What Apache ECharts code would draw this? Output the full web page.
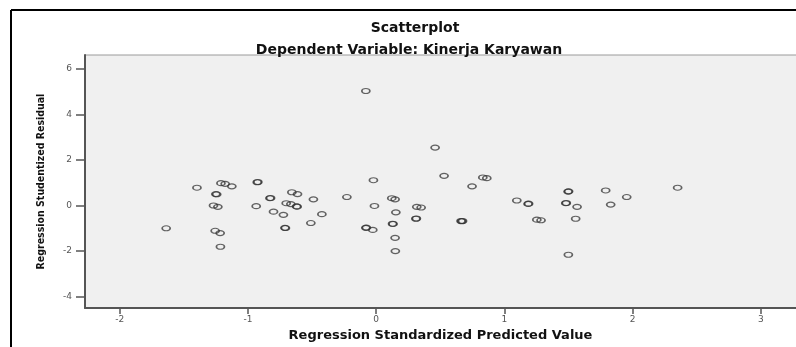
<!DOCTYPE html>
<html><head><meta charset="utf-8">
<script src="https://cdn.jsdelivr.net/npm/echarts@6/dist/echarts.min.js"></script>
<style>html,body{margin:0;padding:0;background:#fff}#c{width:796px;height:347px}</style>
</head><body><div id="c"></div>
<script>
const titleText = 'Scatterplot';
const subtitleText = 'Dependent Variable: Kinerja Karyawan';
const xName = 'Regression Standardized Predicted Value';
const yName = 'Regression Studentized Residual';
const xTicks = [-2, -1, 0, 1, 2, 3];
const yTicks = [-4, -2, 0, 2, 4, 6];
const predicted = [
 -1.637,-1.397,-1.210,-1.177,-1.125,-1.250,-1.243,-1.268,-1.234,-1.255,-1.216,-1.214,
 -0.927,-0.922,-0.935,-0.828,-0.823,-0.800,-0.723,-0.711,-0.707,-0.657,-0.613,-0.701,-0.665,-0.620,-0.616,
 -0.489,-0.423,-0.509,-0.228,-0.021,-0.013,-0.080,-0.076,-0.026,-0.080,
 0.122,0.148,0.154,0.128,0.132,0.148,0.150,0.317,0.351,0.310,0.314,0.662,0.668,0.674,
 0.460,0.530,0.832,0.863,0.748,1.097,1.185,1.189,1.253,1.286,1.497,1.501,1.479,1.483,1.567,1.556,1.499,
 1.790,1.829,1.954,2.351
];
const residual = [
 -1.00,0.78,0.98,0.95,0.84,0.50,0.49,0.00,-0.06,-1.11,-1.21,-1.81,
 1.02,1.03,-0.03,0.32,0.33,-0.27,-0.41,-0.98,-0.99,0.58,0.50,0.10,0.06,-0.04,-0.05,
 0.27,-0.38,-0.77,0.37,1.11,-0.02,-0.98,-0.97,-1.07,5.02,
 0.32,0.27,-0.30,-0.80,-0.81,-1.42,-2.00,-0.06,-0.09,-0.58,-0.57,-0.68,-0.69,-0.68,
 2.54,1.30,1.23,1.20,0.84,0.22,0.07,0.08,-0.62,-0.65,0.61,0.62,0.10,0.11,-0.06,-0.58,-2.16,
 0.66,0.04,0.37,0.78
];
const points = predicted.map((v, i) => [v, residual[i]]);

const chart = echarts.init(document.getElementById('c'));
chart.setOption({
  backgroundColor: '#fff',
  animation: false,
  title: [
    {text: titleText, left: 410, top: 16, textAlign: 'center',
     textStyle: {fontFamily: 'DejaVu Sans', fontWeight: 'bold', fontSize: 14, color: '#111'}},
    {text: subtitleText, left: 404, top: 38, textAlign: 'center',
     textStyle: {fontFamily: 'DejaVu Sans', fontWeight: 'bold', fontSize: 14, color: '#111'}}
  ],
  graphic: [
    {type: 'line', shape: {x1: 11, y1: 10, x2: 796, y2: 10}, style: {stroke: '#000', lineWidth: 2}, silent: true},
    {type: 'line', shape: {x1: 11, y1: 10, x2: 11, y2: 347}, style: {stroke: '#000', lineWidth: 2}, silent: true},
    {type: 'line', shape: {x1: 85, y1: 55, x2: 796, y2: 55}, style: {stroke: '#9a9a9a', lineWidth: 1}, silent: true}
  ],
  grid: {left: 85, top: 55, right: 0, bottom: 36, show: true, backgroundColor: '#f0f0f0', borderWidth: 0},
  xAxis: {
    type: 'value', min: -2.27, max: 3.274,
    name: xName, nameLocation: 'middle', nameGap: 19,
    nameTextStyle: {fontFamily: 'DejaVu Sans', fontWeight: 'bold', fontSize: 13, color: '#111'},
    axisLine: {show: true, onZero: false, lineStyle: {color: '#555', width: 2}},
    axisTick: {show: true, customValues: xTicks, length: 6, lineStyle: {color: '#555', width: 1.5}},
    axisLabel: {customValues: xTicks, color: '#555', fontSize: 9, margin: 7, fontFamily: 'DejaVu Sans'},
    splitLine: {show: false}
  },
  yAxis: {
    type: 'value', min: -4.5, max: 6.6,
    name: yName, nameLocation: 'middle', nameGap: 38, nameRotate: 90,
    nameTextStyle: {fontFamily: 'DejaVu Sans Condensed, Liberation Sans', fontWeight: 'bold', fontSize: 10.5, color: '#111'},
    axisLine: {show: true, onZero: false, lineStyle: {color: '#555', width: 2}},
    axisTick: {show: true, customValues: yTicks, length: 9, lineStyle: {color: '#555', width: 1.5}},
    axisLabel: {customValues: yTicks, color: '#555', fontSize: 9, margin: 13, fontFamily: 'DejaVu Sans'},
    splitLine: {show: false}
  },
  series: [{
    type: 'scatter',
    data: points,
    symbol: 'circle',
    symbolSize: [8, 5],
    itemStyle: {color: 'rgba(0,0,0,0)', borderColor: '#333', borderWidth: 1.4, opacity: 0.75}
  }]
});
</script></body></html>
